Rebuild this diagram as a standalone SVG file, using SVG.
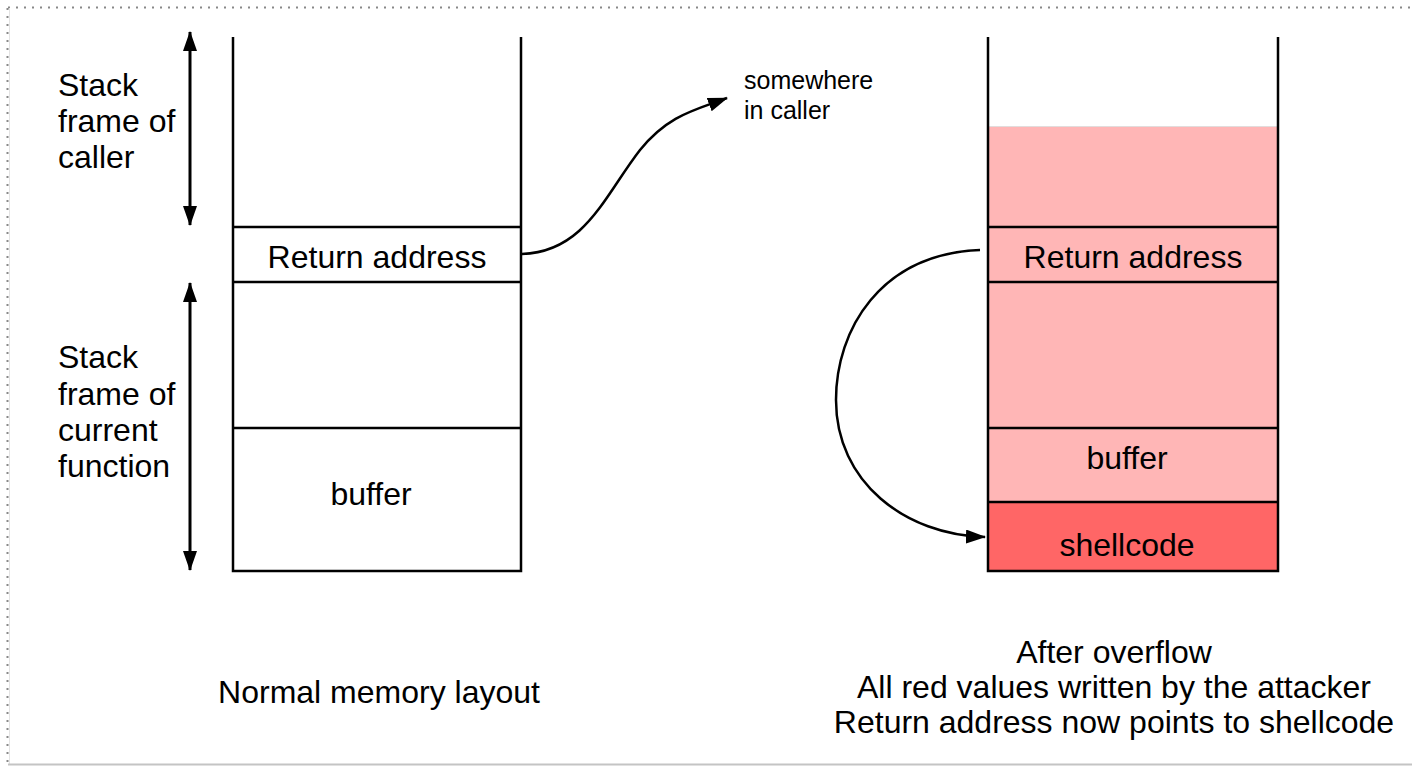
<svg xmlns="http://www.w3.org/2000/svg" width="1412" height="766" viewBox="0 0 1412 766">
  <defs>
    <marker id="arrow" viewBox="0 0 20 14" refX="19" refY="7" markerWidth="20" markerHeight="14" markerUnits="userSpaceOnUse" orient="auto-start-reverse">
      <path d="M0,0 L20,7 L0,14 Z" fill="#000"/>
    </marker>
  </defs>
  <style>
    text { font-family: "Liberation Sans", Arial, sans-serif; fill: #000; }
    .lbl { font-size: 32px; }
    .small { font-size: 25px; }
    .mid { text-anchor: middle; }
    .wall { stroke: #000; stroke-width: 2.5; fill: none; }
    .conn { stroke: #000; stroke-width: 2.5; fill: none; }
    .span { stroke-width: 3; }
  </style>

  <!-- page frame -->
  <rect x="0" y="0" width="1412" height="766" fill="#fff"/>
  <line x1="8" y1="7.5" x2="1412" y2="7.5" stroke="#888" stroke-width="2" stroke-dasharray="2 6"/>
  <line x1="7.5" y1="8" x2="7.5" y2="764" stroke="#888" stroke-width="2" stroke-dasharray="2 6"/>
  <line x1="9.5" y1="8" x2="9.5" y2="764" stroke="#e4e4e4" stroke-width="1"/>
  <line x1="8" y1="764.5" x2="1412" y2="764.5" stroke="#c4c4c4" stroke-width="2"/>

  <!-- normal stack -->
  <g id="stack-normal">
    <path class="wall" d="M233,37 V571 H521 V37"/>
    <line class="wall" x1="233" y1="227" x2="521" y2="227"/>
    <line class="wall" x1="233" y1="282" x2="521" y2="282"/>
    <line class="wall" x1="233" y1="428" x2="521" y2="428"/>
    <text class="lbl mid" x="377" y="268">Return address</text>
    <text class="lbl mid" x="371" y="505">buffer</text>
  </g>

  <g id="label-caller">
    <text class="lbl" x="58" y="96">Stack</text>
    <text class="lbl" x="58" y="132">frame of</text>
    <text class="lbl" x="58" y="168">caller</text>
  </g>

  <g id="label-current">
    <text class="lbl" x="58" y="368">Stack</text>
    <text class="lbl" x="58" y="405">frame of</text>
    <text class="lbl" x="58" y="441">current</text>
    <text class="lbl" x="58" y="477">function</text>
  </g>

  <g id="label-somewhere">
    <text class="small" x="744" y="89">somewhere</text>
    <text class="small" x="744" y="119">in caller</text>
  </g>

  <!-- overflowed stack -->
  <g id="stack-overflow">
    <rect x="988" y="127" width="290" height="375" fill="#ffb6b6"/>
    <line x1="988" y1="126.5" x2="1278" y2="126.5" stroke="#e2dcdc" stroke-width="1"/>
    <rect x="988" y="502" width="290" height="69" fill="#ff6666"/>
    <path class="wall" d="M988,37 V571 H1278 V37"/>
    <line class="wall" x1="988" y1="227" x2="1278" y2="227"/>
    <line class="wall" x1="988" y1="282" x2="1278" y2="282"/>
    <line class="wall" x1="988" y1="428" x2="1278" y2="428"/>
    <line class="wall" x1="988" y1="502" x2="1278" y2="502"/>
    <text class="lbl mid" x="1133" y="268">Return address</text>
    <text class="lbl mid" x="1127" y="469">buffer</text>
    <text class="lbl mid" x="1127" y="556">shellcode</text>
  </g>

  <g id="caption-normal">
    <text class="lbl mid" x="379" y="703">Normal memory layout</text>
  </g>

  <g id="caption-overflow">
    <text class="lbl mid" x="1114" y="663">After overflow</text>
    <text class="lbl mid" x="1114" y="698">All red values written by the attacker</text>
    <text class="lbl mid" x="1114" y="733">Return address now points to shellcode</text>
  </g>

  <!-- connectors -->
  <g id="connectors">
    <line class="conn span" x1="190" y1="32" x2="190" y2="225" marker-start="url(#arrow)" marker-end="url(#arrow)"/>
    <line class="conn span" x1="190" y1="283" x2="190" y2="570" marker-start="url(#arrow)" marker-end="url(#arrow)"/>
    <path class="conn" d="M522,254 C585,252 605,195 640,150 C668,115 695,110 727,98" marker-end="url(#arrow)"/>
    <path class="conn" d="M980,250 C880,254 836,330 836,400 C836,482 905,535 985,537" marker-end="url(#arrow)"/>
  </g>
</svg>
